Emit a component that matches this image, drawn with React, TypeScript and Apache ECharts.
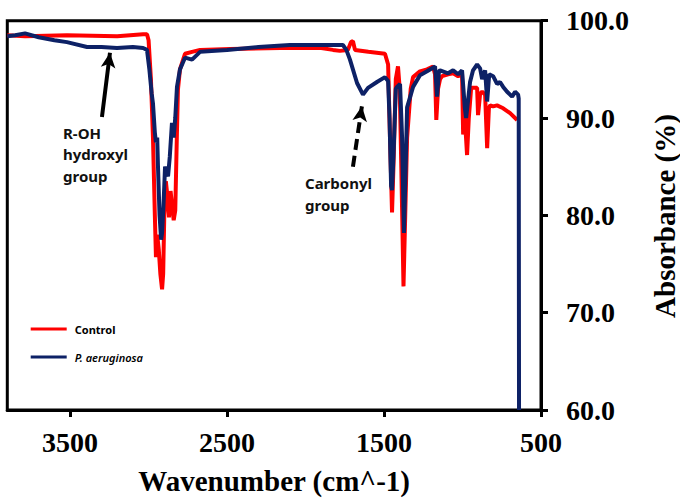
import React, { useEffect, useRef } from "react";
import * as echarts from "echarts";

// Control (red) spectrum
const controlWavenumber = [
  3900, 3787, 3520, 3200, 3035, 3010, 3000, 2985, 2972, 2960, 2953, 2945, 2935, 2925, 2914, 2907,
  2900, 2890, 2880, 2870, 2860, 2850, 2840, 2830, 2820, 2813, 2800, 2768, 2723, 2672, 2481, 2162,
  1900, 1825, 1781, 1730, 1711, 1698, 1685, 1600, 1494, 1474, 1462, 1449, 1440, 1425, 1411, 1400,
  1390, 1376, 1365, 1353, 1330, 1315, 1271, 1226, 1188, 1175, 1167, 1156, 1143, 1130, 1092, 1060,
  1028, 1003, 996, 985, 971, 960, 945, 907, 901, 888, 875, 856, 843, 832, 824, 805, 780, 741, 697, 652,
];
const controlAbsorbance = [
  98.5, 98.4, 98.5, 98.4, 98.6, 98.6, 98.0, 94.0, 88.0, 80.0, 75.7, 78.0, 76.5, 74.0, 72.4, 74.0,
  80.0, 83.5, 82.0, 79.8, 82.5, 81.0, 79.5, 80.5, 88.0, 92.9, 95.0, 96.6, 96.8, 97.0, 97.1, 97.2,
  97.2, 97.0, 96.9, 97.0, 97.8, 97.9, 97.0, 96.8, 96.6, 95.5, 88.0, 80.3, 85.0, 94.0, 95.3, 93.0,
  85.0, 72.7, 80.0, 88.0, 93.0, 94.2, 94.8, 95.0, 95.3, 94.5, 89.8, 93.0, 94.0, 94.3, 94.5, 94.6,
  94.3, 94.5, 88.3, 90.0, 86.2, 90.0, 93.1, 93.1, 90.3, 92.5, 92.7, 92.4, 86.9, 91.0, 91.3, 91.2, 91.3, 91.0, 90.5, 89.8,
];

// P. aeruginosa (navy) spectrum
const paeWavenumber = [
  3900, 3850, 3787, 3700, 3600, 3520, 3392, 3300, 3201, 3100, 3035, 3010, 2995, 2980, 2972, 2960,
  2953, 2945, 2940, 2930, 2920, 2914, 2905, 2895, 2885, 2876, 2865, 2851, 2840, 2830, 2819, 2800,
  2768, 2723, 2672, 2500, 2300, 2100, 1900, 1781, 1762, 1740, 1717, 1672, 1634, 1602, 1545, 1494,
  1474, 1465, 1455, 1449, 1440, 1425, 1417, 1398, 1385, 1373, 1362, 1353, 1315, 1271, 1226, 1175,
  1162, 1150, 1143, 1092, 1060, 1028, 1003, 985, 977, 960, 952, 933, 907, 888, 875, 856, 843, 830,
  805, 780, 761, 741, 716, 684, 665, 646, 642, 640,
];
const paeAbsorbance = [
  98.4, 98.5, 98.7, 98.3, 98.0, 97.8, 97.3, 97.3, 97.2, 97.3, 97.2, 97.0, 95.0, 92.5, 91.5, 88.5,
  87.5, 88.0, 85.0, 80.0, 77.5, 78.2, 81.0, 85.0, 84.5, 84.0, 86.0, 89.5, 88.0, 90.0, 93.2, 95.0,
  96.2, 96.0, 96.8, 97.0, 97.3, 97.5, 97.5, 97.5, 97.5, 97.0, 96.0, 93.6, 92.4, 93.1, 93.7, 94.2,
  93.8, 90.0, 83.0, 82.6, 86.0, 93.0, 93.2, 93.5, 88.0, 78.2, 85.0, 91.1, 93.2, 94.4, 94.8, 95.3,
  92.2, 94.8, 94.9, 94.6, 94.9, 94.5, 94.9, 91.0, 90.0, 92.5, 93.7, 94.9, 95.5, 95.1, 94.0, 94.9, 91.7, 94.5,
  94.3, 93.5, 93.7, 93.2, 92.7, 92.2, 92.7, 92.4, 92.0, 60.0,
];

const xTickValues = [3500, 2500, 1500, 500];
const seriesNames = ["Control", "P. aeruginosa"];

// annotation arrows in data coordinates: [from, to]
const hydroxylArrow = [[3297, 90.1], [3246, 96.7]];
const carbonylArrow = [[1698, 85.0], [1641, 91.2]];

const zip = (xs: number[], ys: number[]) => xs.map((x, i) => [x, ys[i]]);

export default function App() {
  const ref = useRef<HTMLDivElement>(null);
  useEffect(() => {
    if (!ref.current) return;
    const chart = echarts.init(ref.current, undefined, { renderer: "svg" });
    const serif = "'Liberation Serif', 'Times New Roman', serif";
    const sans = "'Noto Sans', 'Open Sans', sans-serif";
    chart.setOption({
      animation: false,
      backgroundColor: "#fff",
      grid: {
        left: 7.3,
        right: 139,
        top: 20.7,
        bottom: 93,
        show: true,
        borderColor: "#000",
        borderWidth: 3,
      },
      xAxis: {
        type: "value",
        inverse: true,
        min: 500,
        max: 3900,
        name: "Wavenumber (cm^-1)",
        nameLocation: "middle",
        nameGap: 56,
        nameTextStyle: { fontFamily: serif, fontWeight: "bold", fontSize: 29, color: "#000" },
        axisLine: { show: true, lineStyle: { color: "#000", width: 3 } },
        axisTick: { show: true, inside: false, length: 7, lineStyle: { color: "#000", width: 3 }, customValues: xTickValues },
        axisLabel: {
          fontFamily: serif,
          fontWeight: "bold",
          fontSize: 28,
          color: "#000",
          margin: 18,
          customValues: xTickValues,
          formatter: (v: number) => String(v),
        },
        splitLine: { show: false },
      },
      yAxis: {
        type: "value",
        position: "right",
        min: 60,
        max: 100,
        interval: 10,
        axisLine: { show: true, lineStyle: { color: "#000", width: 3 } },
        axisTick: { show: true, inside: false, length: 7, lineStyle: { color: "#000", width: 3 } },
        axisLabel: {
          fontFamily: serif,
          fontWeight: "bold",
          fontSize: 28,
          color: "#000",
          margin: 25,
          formatter: (v: number) => v.toFixed(1),
        },
        splitLine: { show: false },
      },
      legend: {
        orient: "vertical",
        left: 30.7,
        top: 322,
        padding: 0,
        itemWidth: 36,
        itemHeight: 3,
        itemGap: 14,
        icon: "rect",
        data: seriesNames,
        formatter: (name: string) => (name === "P. aeruginosa" ? "{i|" + name + "}" : "{b|" + name + "}"),
        textStyle: {
          fontFamily: sans,
          fontSize: 11,
          color: "#000",
          lineHeight: 14,
          rich: {
            b: { fontFamily: sans, fontSize: 11, fontWeight: "bold", lineHeight: 14, padding: [0, 0, 0, 3] },
            i: { fontFamily: sans, fontSize: 11, fontStyle: "italic", fontWeight: 600, lineHeight: 14, padding: [0, 0, 0, 3] },
          },
        },
      },
      series: [
        {
          name: seriesNames[0],
          type: "line",
          symbol: "none",
          showSymbol: false,
          clip: true,
          color: "#FF0000",
          lineStyle: { color: "#FF0000", width: 4 },
          data: zip(controlWavenumber, controlAbsorbance),
        },
        {
          name: seriesNames[1],
          type: "line",
          symbol: "none",
          showSymbol: false,
          clip: true,
          color: "#0D2166",
          lineStyle: { color: "#0D2166", width: 4 },
          data: zip(paeWavenumber, paeAbsorbance),
          markLine: {
            silent: true,
            animation: false,
            symbol: ["none", "arrow"],
            symbolSize: [11, 15],
            label: { show: false },
            emphasis: { disabled: true },
            data: [
              [
                { coord: hydroxylArrow[0], lineStyle: { color: "#000", width: 4, type: "solid" } },
                { coord: hydroxylArrow[1] },
              ],
              [
                { coord: carbonylArrow[0], lineStyle: { color: "#000", width: 4, type: [11, 6] } },
                { coord: carbonylArrow[1] },
              ],
            ],
          },
        },
      ],
      graphic: [
        {
          type: "text",
          x: 665,
          y: 216,
          rotation: Math.PI / 2,
          style: {
            text: "Absorbance (%)",
            fontFamily: serif,
            fontWeight: "bold",
            fontSize: 29,
            fill: "#000",
            align: "center",
            verticalAlign: "middle",
            textAlign: "center",
            textVerticalAlign: "middle",
          },
        },
        {
          type: "text",
          x: 63,
          y: 122,
          style: {
            text: "R-OH\nhydroxyl\ngroup",
            fontFamily: sans,
            fontWeight: "bold",
            fontSize: 15,
            lineHeight: 21.5,
            fill: "#111",
            align: "left",
            verticalAlign: "top",
            textAlign: "left",
            textVerticalAlign: "top",
          },
        },
        {
          type: "text",
          x: 305,
          y: 172,
          style: {
            text: "Carbonyl\ngroup",
            fontFamily: sans,
            fontWeight: "bold",
            fontSize: 15,
            lineHeight: 22,
            fill: "#111",
            align: "left",
            verticalAlign: "top",
            textAlign: "left",
            textVerticalAlign: "top",
          },
        },
      ],
    });
    return () => chart.dispose();
  }, []);
  return <div ref={ref} style={{ position: "absolute", left: 0, top: 0, width: 680, height: 503 }} />;
}
